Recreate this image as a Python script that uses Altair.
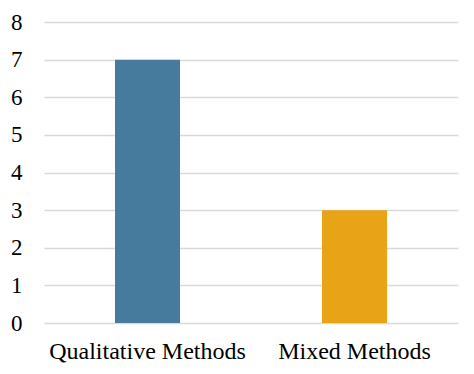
import altair as alt
import pandas as pd

categories = ["Qualitative Methods", "Mixed Methods"]
values = [7, 3]
colors = ["#467B9D", "#E8A317"]

df = pd.DataFrame({"category": categories, "value": values})

FONT = "Liberation Serif"

chart = alt.Chart(df).mark_bar(width=alt.RelativeBandSize(0.314)).encode(
    x=alt.X("category:N", sort=categories, title=None,
            scale=alt.Scale(paddingInner=0, paddingOuter=0),
            axis=alt.Axis(labelAngle=0, labelFontSize=24, labelFont=FONT,
                          labelColor="#000000", domain=False, ticks=False,
                          labelPadding=16, labelLimit=400)),
    y=alt.Y("value:Q", title=None,
            scale=alt.Scale(domain=[0, 8]),
            axis=alt.Axis(values=[0, 1, 2, 3, 4, 5, 6, 7, 8], labelFontSize=23,
                          labelFont=FONT, labelColor="#000000", domain=False,
                          ticks=False, labelPadding=22, gridColor="#D9D9D9",
                          gridWidth=1.5)),
    color=alt.Color("category:N", scale=alt.Scale(domain=categories, range=colors),
                    legend=None),
).properties(
    width=414, height=301,
    autosize=alt.AutoSizeParams(type="none"),
    padding={"left": 36, "top": 14, "right": 8, "bottom": 45},
).configure_view(stroke=None)

chart.save("out.html", embed_options={"renderer": "svg", "actions": False})
